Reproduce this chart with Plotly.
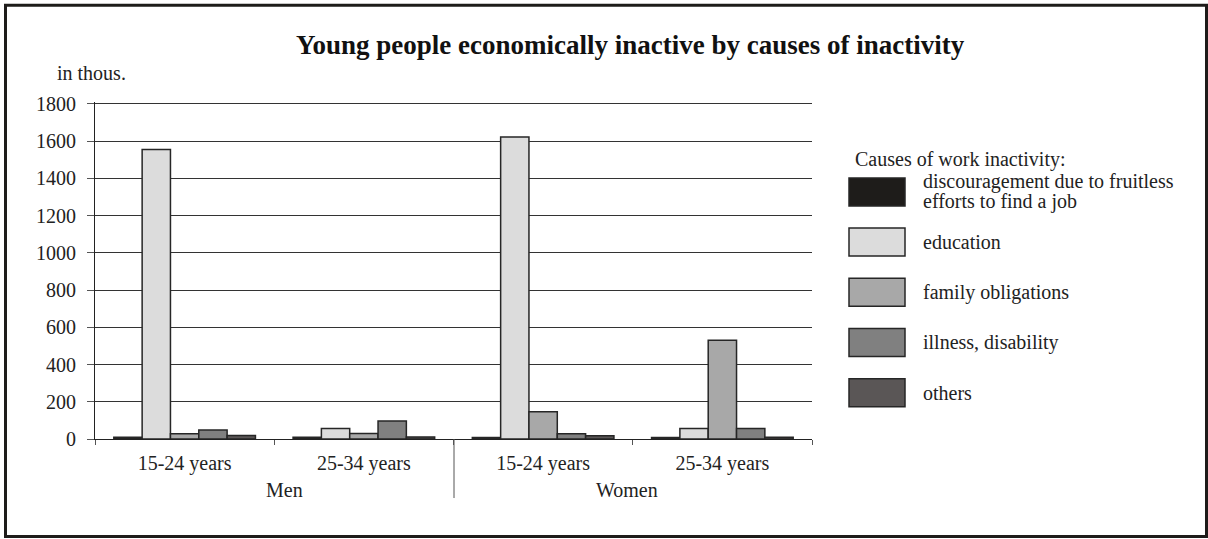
import plotly.graph_objects as go

# data, in thousands
sexes = ['Men', 'Men', 'Women', 'Women']
ages = ['15-24 years', '25-34 years', '15-24 years', '25-34 years']
causes = ['discouragement due to fruitless<br>efforts to find a job', 'education',
          'family obligations', 'illness, disability', 'others']
discouragement = [10, 10, 8, 8]
education = [1555, 57, 1622, 57]
family = [28, 30, 147, 530]
illness = [48, 97, 28, 57]
others = [19, 11, 18, 10]
colors = ['#1e1c1a', '#dcdcdc', '#a8a8a8', '#808080', '#5a5656']

series = [discouragement, education, family, illness, others]
cats = [s + ' ' + a for s, a in zip(sexes, ages)]  # unique category keys

W, H = 1208, 539
YMAX = 1810  # a bit above 1800 so the top gridline is not clipped
L, R, B = 95, 812, 439
T = B - YMAX * (439 - 104) / 1800

def px(x):
    return (x - L) / (R - L)

def py(y):
    return (B - y) / (B - T)

FONT = 'Liberation Serif'
FS = 20

fig = go.Figure()
for name, vals, col in zip(causes, series, colors):
    fig.add_trace(go.Bar(
        x=cats, y=vals, name=name.replace('<br>', ' '),
        marker=dict(color=col, line=dict(color='#262626', width=1.5)),
        showlegend=False))

fig.update_layout(
    width=W, height=H,
    margin=dict(l=L, r=W - R, t=T, b=H - B),
    paper_bgcolor='white', plot_bgcolor='white',
    font=dict(family=FONT, size=FS, color='#222'),
    barmode='group', bargap=0.21, bargroupgap=0,
    showlegend=False,
)
fig.update_xaxes(
    tickvals=cats, ticktext=ages, tickson='boundaries',
    ticks='outside', ticklen=5, tickcolor='#555', ticklabelstandoff=6,
    showline=True, linecolor='#222', linewidth=1,
    showgrid=False, tickfont=dict(size=FS),
)
fig.update_yaxes(
    range=[0, YMAX], tickvals=list(range(0, 1801, 200)),
    ticks='outside', ticklen=7, tickcolor='#555', ticklabelstandoff=7,
    showline=True, linecolor='#222', linewidth=1,
    showgrid=True, gridcolor='#333', gridwidth=1,
    tickfont=dict(size=FS), zeroline=False,
)

shapes = [
    # outer frame
    dict(type='rect', xref='paper', yref='paper',
         x0=px(5.5), x1=px(1206.5), y0=py(536.5), y1=py(5.5),
         line=dict(color='#1e1c1a', width=3)),
    # separator between Men and Women
    dict(type='line', xref='paper', yref='paper',
         x0=px(454), x1=px(454), y0=py(439), y1=py(498),
         line=dict(color='#555', width=1)),
]

annotations = [
    dict(text='<b>Young people economically inactive by causes of inactivity</b>',
         xref='paper', yref='paper', x=px(630), y=py(45), showarrow=False,
         font=dict(size=27, family=FONT, color='#111'), xanchor='center', yanchor='middle'),
    dict(text='in thous.', xref='paper', yref='paper', x=px(55), y=py(73),
         showarrow=False, xanchor='left', yanchor='middle'),
    dict(text='Men', xref='paper', yref='paper', x=px(284), y=py(490),
         showarrow=False, xanchor='center', yanchor='middle'),
    dict(text='Women', xref='paper', yref='paper', x=px(627), y=py(490),
         showarrow=False, xanchor='center', yanchor='middle'),
    dict(text='Causes of work inactivity:', xref='paper', yref='paper', x=px(853), y=py(160),
         showarrow=False, xanchor='left', yanchor='middle'),
]

# hand-drawn legend with wide swatches
for i, (name, col) in enumerate(zip(causes, colors)):
    top = 178 + i * 50.2
    shapes.append(dict(type='rect', xref='paper', yref='paper',
                       x0=px(849), x1=px(905), y0=py(top + 28), y1=py(top),
                       fillcolor=col, line=dict(color='#262626', width=1.5)))
    lines = name.split('<br>')
    for j, line in enumerate(lines):
        yc = top + 14 + (j - (len(lines) - 1) / 2) * 20
        annotations.append(dict(text=line, xref='paper', yref='paper',
                                x=px(921), y=py(yc), showarrow=False,
                                xanchor='left', yanchor='middle'))

fig.update_layout(shapes=shapes, annotations=annotations)
fig.write_html('out.html', config={'displayModeBar': False},
               post_script="document.body.style.margin='0';")
